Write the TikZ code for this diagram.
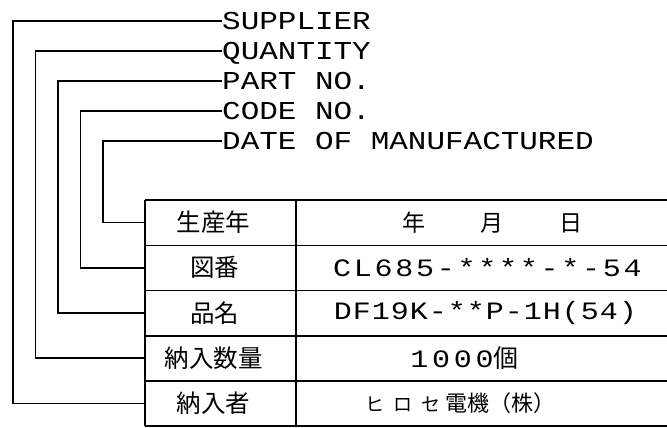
\documentclass[tikz,border=0pt]{standalone}
\usepackage{fontspec}
\newfontfamily\cjkfont{Noto Sans CJK JP}
\newfontfamily\cadfont{Liberation Mono}[FakeStretch=1.2]
\newfontfamily\valfont{Liberation Mono}[FakeStretch=1.2,LetterSpace=11]
\usetikzlibrary{positioning,calc}

\tikzset{
  lead/.style={line width=1.6pt},
  grid/.style={line width=1.6pt},
  tag/.style={anchor=west, inner sep=0pt, text height=17pt, text depth=0pt,
    font=\cadfont\fontsize{25.8}{26}\selectfont},
  keycell/.style={minimum width=151pt, minimum height=45.2pt, inner sep=0pt},
  valcell/.style={minimum width=371pt, minimum height=45.2pt, inner sep=0pt},
  keytext/.style={inner sep=0pt, font=\cjkfont\fontsize{24.5}{25}\selectfont},
  valtext/.style={inner sep=0pt, font=\valfont\fontsize{25}{25}\selectfont}
}

\begin{document}
\begin{tikzpicture}[x=1pt,y=-1pt]
    \useasboundingbox (0,0) rectangle (667,428);

    % table cells
    \foreach \i in {1,...,5} {
        \node[keycell] (k\i) at (220.5,{200+45.2*(\i-0.5)}) {};
        \node[valcell] (v\i) at (481.5,{200+45.2*(\i-0.5)}) {};
    }
    \draw[grid] (k1.north west) -- (v1.north east);
    \foreach \i in {1,...,5}
        \draw[grid] (k\i.south west) -- (v\i.south east);
    \draw[grid] (k1.north west) -- (k5.south west);
    \draw[grid] (k1.north east) -- (k5.south east);

    \node[keytext] (kdate) at ([xshift=-7pt]k1.center) {生産年};
    \node[keytext] (kcode) at ([xshift=-6pt]k2.center) {図番};
    \node[keytext] (kpart) at ([xshift=-6pt]k3.center) {品名};
    \node[keytext] (kqty)  at ([xshift=-7pt]k4.center) {納入数量};
    \node[keytext] (ksup)  at ([xshift=-7pt]k5.center) {納入者};

    \node[keytext, font=\cjkfont\fontsize{23}{23}\selectfont] (vdate) at ([xshift=11pt]v1.center) {年\hspace{56pt}月\hspace{56pt}日};
    \node[valtext] (vcode) at ([xshift=6pt]v2.center) {CL685-****-*-54};
    \node[valtext] (vpart) at ([xshift=4pt]v3.center) {\addfontfeature{LetterSpace=4}DF19K-**P-1H(54)};
    \node[valtext] (vqty)  at ([xshift=-17pt]v4.center) {\addfontfeature{LetterSpace=15}1000{\cjkfont 個}};
    \node[keytext, font=\cjkfont\fontsize{22}{22}\selectfont] (vsup) at ([xshift=-21pt]v5.center)
        {{\fontsize{19}{19}\selectfont ヒ\hspace{9pt}ロ\hspace{9pt}セ}\hspace{5pt}電機（株）};

    % labels
    \node[tag] (sup)  at (222,21)  {SUPPLIER};
    \node[tag] (qty)  at (222,51)  {QUANTITY};
    \node[tag] (part) at (222,81)  {PART NO.};
    \node[tag] (code) at (222,111) {CODE NO.};
    \node[tag] (date) at (222,141) {DATE OF MANUFACTURED};

    % leaders
    \foreach \t/\r/\x in {sup/5/13, qty/4/35.5, part/3/58, code/2/80.5, date/1/103} {
        \coordinate (bend\r) at (\x,0);
        \draw[lead] (\t.west) -| (k\r.west -| bend\r) -- (k\r.west);
    }
\end{tikzpicture}
\end{document}
